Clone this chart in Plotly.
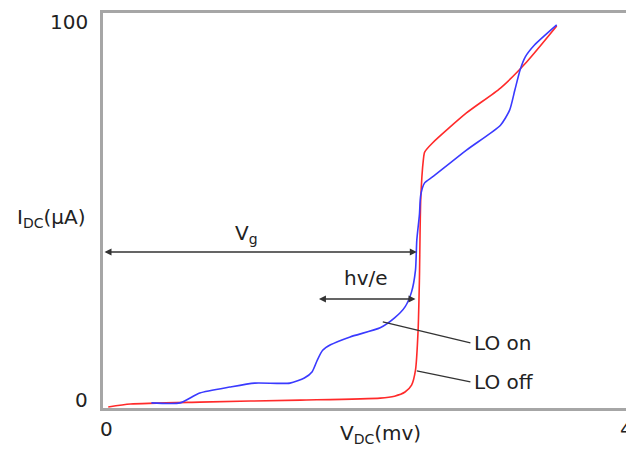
import plotly.graph_objects as go

# Data
lo_off_v = [0.04, 0.21, 0.74, 1.51, 2.12, 2.23, 2.31, 2.36, 2.39, 2.41, 2.42, 2.43, 2.45, 2.46, 2.52, 2.78, 3.04, 3.24, 3.47]
lo_off_i = [0.25, 1.0, 1.5, 2.0, 2.5, 3.0, 4.05, 5.8, 9.6, 19.7, 32.4, 52.7, 62.8, 64.8, 67.1, 74.7, 81.0, 87.6, 96.7]

lo_on_v = [0.37, 0.59, 0.74, 0.97, 1.16, 1.43, 1.54, 1.60, 1.64, 1.68, 1.74, 1.89, 2.12, 2.23, 2.31, 2.36, 2.39, 2.40,
           2.42, 2.43, 2.46, 2.52, 2.78, 3.04, 3.11, 3.15, 3.19, 3.23, 3.30, 3.47]
lo_on_i = [1.3, 1.3, 3.8, 5.3, 6.3, 6.3, 7.6, 9.2, 12.2, 14.6, 16.0, 18.0, 20.3, 22.8, 25.6, 29.4, 34.9, 42.5,
           48.9, 53.9, 57.0, 58.5, 65.3, 71.6, 75.4, 80.5, 85.6, 88.9, 91.9, 97.0]

x_tick_vals = [0, 4]
x_tick_text = ["0", "4"]
y_tick_vals = [0, 100]
y_tick_text = ["0", "100"]

TXT = "#222222"
FONT = "DejaVu Sans"

fig = go.Figure()
fig.add_trace(go.Scatter(x=lo_off_v, y=lo_off_i, mode="lines", name="LO off",
                         line=dict(color="#ff2a2a", width=1.6, shape="spline", smoothing=0.6)))
fig.add_trace(go.Scatter(x=lo_on_v, y=lo_on_i, mode="lines", name="LO on",
                         line=dict(color="#3a3aff", width=1.6, shape="spline", smoothing=0.6)))

# Arrows (double-headed)
arrow_style = dict(showarrow=True, arrowhead=2, startarrowhead=2, arrowside="end+start",
                   arrowsize=1, startarrowsize=1, arrowwidth=1.4, arrowcolor="#333333",
                   xref="x", yref="y", axref="x", ayref="y", text="")
fig.add_annotation(x=2.40, y=39.5, ax=0.0, ay=39.5, **arrow_style)
fig.add_annotation(x=2.39, y=27.6, ax=1.64, ay=27.6, **arrow_style)

# Leader lines
fig.add_shape(type="line", x0=2.14, y0=21.8, x1=2.81, y1=16.5, line=dict(color="#333333", width=1.3))
fig.add_shape(type="line", x0=2.40, y0=9.4, x1=2.81, y1=6.6, line=dict(color="#333333", width=1.3))

tf = dict(family=FONT, size=20, color=TXT)
fig.add_annotation(x=2.82, y=16.5, text="LO on", showarrow=False, xanchor="left", yanchor="middle", font=tf)
fig.add_annotation(x=2.82, y=6.6, text="LO off", showarrow=False, xanchor="left", yanchor="middle", font=tf)
fig.add_annotation(x=1.10, y=44.0, text="V<sub>g</sub>", showarrow=False, xanchor="center", yanchor="middle", font=tf)
fig.add_annotation(x=2.01, y=33.0, text="hv/e", showarrow=False, xanchor="center", yanchor="middle", font=tf)

# Axis titles
fig.add_annotation(xref="paper", yref="paper", x=0.53, y=-0.065, text="V<sub>DC</sub>(mv)", showarrow=False,
                   xanchor="center", yanchor="middle", font=tf)
fig.add_annotation(xref="paper", yref="paper", x=-0.10, y=0.48, text="I<sub>DC</sub>(μA)", showarrow=False,
                   xanchor="center", yanchor="middle", font=tf)

# Y tick labels placed as annotations so the top one stays inside the page
for v, t in zip(y_tick_vals, y_tick_text):
    if v == max(y_tick_vals):
        fig.add_annotation(xref="paper", yref="paper", x=-0.025, y=1.0127, text=t, showarrow=False,
                           xanchor="right", yanchor="top", font=tf)
    else:
        fig.add_annotation(xref="paper", yref="paper", x=-0.025, y=0.02, text=t, showarrow=False,
                           xanchor="right", yanchor="middle", font=tf)

# X tick labels as annotations
x_label_pos = {0: 0.0076, 4: 1.0}
for v, t in zip(x_tick_vals, x_tick_text):
    fig.add_annotation(xref="paper", yref="paper", x=x_label_pos[v], y=-0.053, text=t, showarrow=False,
                       xanchor="center", yanchor="middle", font=tf)

axis_common = dict(showgrid=False, zeroline=False, showline=True, mirror=True, automargin=False,
                   linecolor="#a6a6a6", linewidth=2.5, ticks="", tickfont=tf)
fig.update_xaxes(range=[0, 4], tickvals=x_tick_vals, showticklabels=False, **axis_common)
fig.update_yaxes(range=[0, 100], tickvals=y_tick_vals, showticklabels=False, **axis_common)

# The page body adds an 8px offset; size the figure so the plot box lands where the reference has it
fig.update_layout(width=626, height=443, margin=dict(l=95, r=8, t=5, b=43, autoexpand=False),
                  paper_bgcolor="white", plot_bgcolor="white", showlegend=False,
                  font=dict(family=FONT, color=TXT))

fig.write_html("out.html")
